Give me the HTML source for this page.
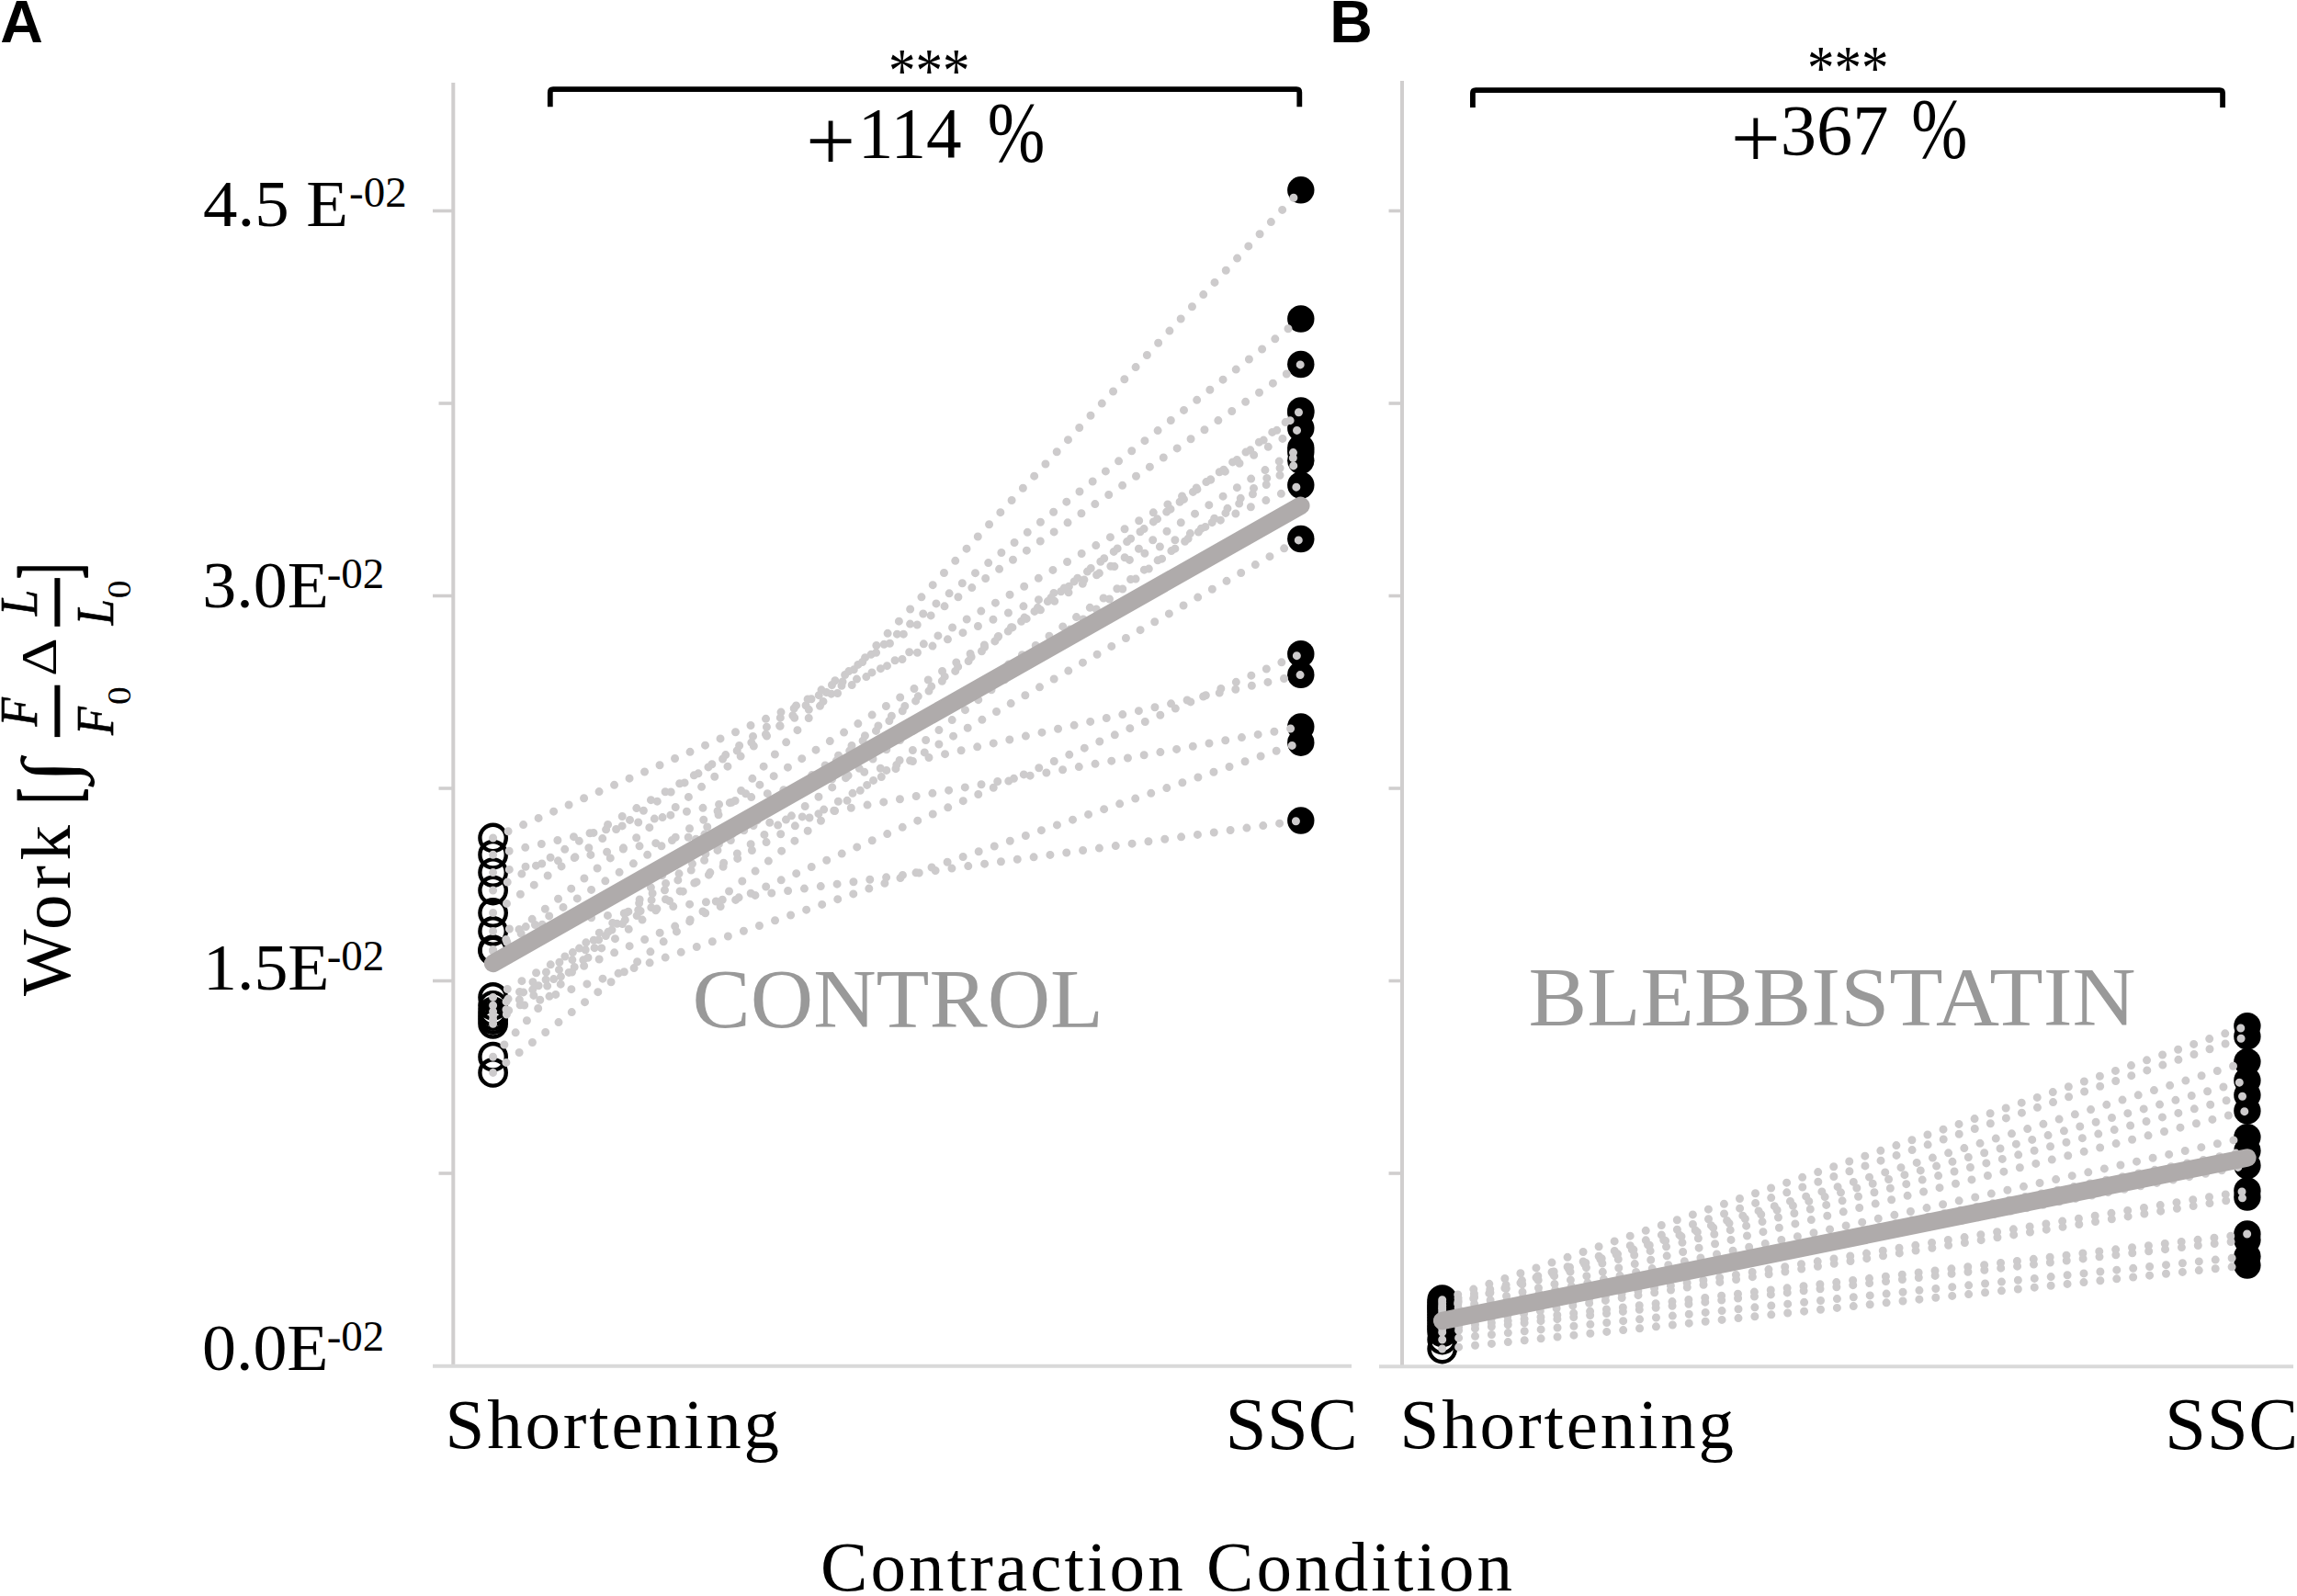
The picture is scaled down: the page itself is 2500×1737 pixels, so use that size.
<!DOCTYPE html>
<html lang="en"><head><meta charset="utf-8"><title>Work per contraction condition</title>
<style>html,body{margin:0;padding:0;background:#fff}body{width:2500px;height:1737px;overflow:hidden}svg{display:block}text{font-family:"Liberation Serif", serif;fill:#000}.sb{font-family:"Liberation Sans", sans-serif;font-weight:700}.lab{fill:#999999}</style>
</head><body>
<svg width="2500" height="1737" viewBox="0 0 2500 1737">
<rect width="2500" height="1737" fill="#fff"/>
<g stroke="#d0cece" stroke-width="4" fill="none">
<line x1="493.3" y1="90" x2="493.3" y2="1488"/>
<line x1="471.0" y1="229.5" x2="493.3" y2="229.5" stroke-width="3.6"/>
<line x1="477.5" y1="439.0" x2="493.3" y2="439.0" stroke-width="3.6"/>
<line x1="471.0" y1="648.5" x2="493.3" y2="648.5" stroke-width="3.6"/>
<line x1="477.5" y1="858.0" x2="493.3" y2="858.0" stroke-width="3.6"/>
<line x1="471.0" y1="1067.5" x2="493.3" y2="1067.5" stroke-width="3.6"/>
<line x1="477.5" y1="1277.0" x2="493.3" y2="1277.0" stroke-width="3.6"/>
<line x1="1526" y1="88" x2="1526" y2="1488"/>
<line x1="1511.5" y1="229.5" x2="1526" y2="229.5" stroke-width="3.6"/>
<line x1="1511.5" y1="439.0" x2="1526" y2="439.0" stroke-width="3.6"/>
<line x1="1511.5" y1="648.5" x2="1526" y2="648.5" stroke-width="3.6"/>
<line x1="1511.5" y1="858.0" x2="1526" y2="858.0" stroke-width="3.6"/>
<line x1="1511.5" y1="1067.5" x2="1526" y2="1067.5" stroke-width="3.6"/>
<line x1="1511.5" y1="1277.0" x2="1526" y2="1277.0" stroke-width="3.6"/>
</g>
<g stroke="#d9d9d9" stroke-width="4" fill="none">
<line x1="471" y1="1486.8" x2="1471" y2="1486.8"/>
<line x1="1501" y1="1487.3" x2="2496" y2="1487.3"/>
</g>
<g fill="none" stroke="#000" stroke-width="4.4">
<circle cx="536.6" cy="1150.2" r="14.2"/>
<circle cx="536.6" cy="1033.6" r="14.2"/>
<circle cx="536.6" cy="993.5" r="14.2"/>
<circle cx="536.6" cy="912.0" r="14.2"/>
<circle cx="536.6" cy="1035.0" r="14.2"/>
<circle cx="536.6" cy="1109.6" r="14.2"/>
<circle cx="536.6" cy="1100.9" r="14.2"/>
<circle cx="536.6" cy="1085.4" r="14.2"/>
<circle cx="536.6" cy="930.2" r="14.2"/>
<circle cx="536.6" cy="949.6" r="14.2"/>
<circle cx="536.6" cy="1094.3" r="14.2"/>
<circle cx="536.6" cy="1105.5" r="14.2"/>
<circle cx="536.6" cy="1013.5" r="14.2"/>
<circle cx="536.6" cy="1114.3" r="14.2"/>
<circle cx="536.6" cy="1167.4" r="14.2"/>
<circle cx="536.6" cy="969.0" r="14.2"/>
</g>
<g fill="#000">
<circle cx="1415.8" cy="206.8" r="14.7"/>
<circle cx="1415.8" cy="347.0" r="14.7"/>
<circle cx="1415.8" cy="396.5" r="14.7"/>
<circle cx="1415.8" cy="528.0" r="14.7"/>
<circle cx="1415.8" cy="487.4" r="14.7"/>
<circle cx="1415.8" cy="447.0" r="14.7"/>
<circle cx="1415.8" cy="449.0" r="14.7"/>
<circle cx="1415.8" cy="586.5" r="14.7"/>
<circle cx="1415.8" cy="734.4" r="14.7"/>
<circle cx="1415.8" cy="791.0" r="14.7"/>
<circle cx="1415.8" cy="711.7" r="14.7"/>
<circle cx="1415.8" cy="808.2" r="14.7"/>
<circle cx="1415.8" cy="893.0" r="14.7"/>
<circle cx="1415.8" cy="501.3" r="14.7"/>
<circle cx="1415.8" cy="492.0" r="14.7"/>
<circle cx="1415.8" cy="466.0" r="14.7"/>
</g>
<g fill="none" stroke="#cdcbcc" stroke-width="9" stroke-linecap="round" stroke-dasharray="0 18">
<path d="M536.6 1150.2L1415.8 206.8"/>
<path d="M536.6 1033.6L1415.8 347.0"/>
<path d="M536.6 993.5L1415.8 396.5"/>
<path d="M536.6 912.0L1415.8 528.0"/>
<path d="M536.6 1035.0L1415.8 487.4"/>
<path d="M536.6 1109.6L1415.8 447.0"/>
<path d="M536.6 1100.9L1415.8 449.0"/>
<path d="M536.6 1085.4L1415.8 586.5"/>
<path d="M536.6 930.2L1415.8 734.4"/>
<path d="M536.6 949.6L1415.8 791.0"/>
<path d="M536.6 1094.3L1415.8 711.7"/>
<path d="M536.6 1105.5L1415.8 808.2"/>
<path d="M536.6 1013.5L1415.8 893.0"/>
<path d="M536.6 1114.3L1415.8 501.3"/>
<path d="M536.6 1167.4L1415.8 492.0"/>
<path d="M536.6 969.0L1415.8 466.0"/>
</g>
<path d="M536.6 1048.4L1415.8 550.3" fill="none" stroke="#afabab" stroke-width="19.5" stroke-linecap="round"/>
<g fill="none" stroke="#000" stroke-width="4.4">
<circle cx="1569.7" cy="1414.7" r="14.2"/>
<circle cx="1569.7" cy="1425.0" r="14.2"/>
<circle cx="1569.7" cy="1423.0" r="14.2"/>
<circle cx="1569.7" cy="1417.5" r="14.2"/>
<circle cx="1569.7" cy="1420.5" r="14.2"/>
<circle cx="1569.7" cy="1428.0" r="14.2"/>
<circle cx="1569.7" cy="1431.0" r="14.2"/>
<circle cx="1569.7" cy="1434.0" r="14.2"/>
<circle cx="1569.7" cy="1437.0" r="14.2"/>
<circle cx="1569.7" cy="1440.0" r="14.2"/>
<circle cx="1569.7" cy="1444.0" r="14.2"/>
<circle cx="1569.7" cy="1446.0" r="14.2"/>
<circle cx="1569.7" cy="1450.0" r="14.2"/>
<circle cx="1569.7" cy="1458.0" r="14.2"/>
<circle cx="1569.7" cy="1468.0" r="14.2"/>
</g>
<g fill="#000">
<circle cx="2445.9" cy="1116.6" r="14.7"/>
<circle cx="2445.9" cy="1127.9" r="14.7"/>
<circle cx="2445.9" cy="1155.6" r="14.7"/>
<circle cx="2445.9" cy="1175.8" r="14.7"/>
<circle cx="2445.9" cy="1191.8" r="14.7"/>
<circle cx="2445.9" cy="1208.9" r="14.7"/>
<circle cx="2445.9" cy="1237.6" r="14.7"/>
<circle cx="2445.9" cy="1252.5" r="14.7"/>
<circle cx="2445.9" cy="1268.5" r="14.7"/>
<circle cx="2445.9" cy="1296.0" r="14.7"/>
<circle cx="2445.9" cy="1303.0" r="14.7"/>
<circle cx="2445.9" cy="1343.0" r="14.7"/>
<circle cx="2445.9" cy="1349.4" r="14.7"/>
<circle cx="2445.9" cy="1367.5" r="14.7"/>
<circle cx="2445.9" cy="1377.1" r="14.7"/>
</g>
<g fill="none" stroke="#cdcbcc" stroke-width="9" stroke-linecap="round" stroke-dasharray="0 18">
<path d="M1569.7 1414.7L2445.9 1116.6"/>
<path d="M1569.7 1425.0L2445.9 1127.9"/>
<path d="M1569.7 1423.0L2445.9 1155.6"/>
<path d="M1569.7 1417.5L2445.9 1175.8"/>
<path d="M1569.7 1420.5L2445.9 1191.8"/>
<path d="M1569.7 1428.0L2445.9 1208.9"/>
<path d="M1569.7 1431.0L2445.9 1237.6"/>
<path d="M1569.7 1434.0L2445.9 1252.5"/>
<path d="M1569.7 1437.0L2445.9 1268.5"/>
<path d="M1569.7 1440.0L2445.9 1296.0"/>
<path d="M1569.7 1444.0L2445.9 1303.0"/>
<path d="M1569.7 1446.0L2445.9 1343.0"/>
<path d="M1569.7 1450.0L2445.9 1349.4"/>
<path d="M1569.7 1458.0L2445.9 1367.5"/>
<path d="M1569.7 1468.0L2445.9 1377.1"/>
</g>
<path d="M1569.7 1437.5L2445.9 1260.0" fill="none" stroke="#afabab" stroke-width="19.5" stroke-linecap="round"/>
<g fill="none" stroke="#000" stroke-width="5.8" stroke-linejoin="round">
<path d="M598.8 116.3V100.4Q598.8 97.2 602 97.2H1411.1Q1414.3 97.2 1414.3 100.4V116.3"/>
<path d="M1602.9 117V101.3Q1602.9 98.1 1606.1 98.1H2415.9Q2419.1 98.1 2419.1 101.3V117"/>
</g>
<text x="0.3" y="45.8" class="sb" font-size="64.5">A</text>
<text x="1447.2" y="45.9" class="sb" font-size="64.5">B</text>
<text transform="translate(1011.2 99) scale(1 1.13)" font-size="59" text-anchor="middle">***</text>
<text transform="translate(2011.2 96.4) scale(1 1.13)" font-size="59" text-anchor="middle">***</text>
<text x="877" y="184.5" font-size="96">+</text>
<text x="933.7" y="171.3" font-size="79" textLength="113" lengthAdjust="spacingAndGlyphs">114</text>
<text transform="translate(1074.8 174.6) scale(0.976 1.21)" font-size="77">%</text>
<text x="1883.8" y="181.6" font-size="96">+</text>
<text x="1937.8" y="168.3" font-size="79" textLength="117.8" lengthAdjust="spacingAndGlyphs">367</text>
<text transform="translate(2080.2 171.4) scale(0.952 1.2)" font-size="77">%</text>
<text x="221.0" y="246.2" font-size="72" textLength="158.0" lengthAdjust="spacingAndGlyphs">4.5 E</text>
<text x="380.0" y="225.2" font-size="47">-02</text>
<text x="220.3" y="660.8" font-size="72" textLength="137.5" lengthAdjust="spacingAndGlyphs">3.0E</text>
<text x="355.7" y="639.8" font-size="47">-02</text>
<text x="221.0" y="1076.6" font-size="72" textLength="137.5" lengthAdjust="spacingAndGlyphs">1.5E</text>
<text x="355.7" y="1055.6" font-size="47">-02</text>
<text x="220.0" y="1491.4" font-size="72" textLength="137.5" lengthAdjust="spacingAndGlyphs">0.0E</text>
<text x="355.7" y="1470.4" font-size="47">-02</text>
<text x="753.5" y="1117.7" font-size="90" class="lab" textLength="447.5" lengthAdjust="spacingAndGlyphs">CONTROL</text>
<text x="1663.5" y="1116.3" font-size="90" class="lab" textLength="661" lengthAdjust="spacingAndGlyphs">BLEBBISTATIN</text>
<text x="484.5" y="1575.5" font-size="77" textLength="363.5">Shortening</text>
<text x="1333.6" y="1576.7" font-size="81" textLength="144.1">SSC</text>
<text x="1523.6" y="1575.5" font-size="77" textLength="363.5">Shortening</text>
<text x="2356" y="1576.7" font-size="81" textLength="145.4">SSC</text>
<text x="893" y="1730.5" font-size="77" textLength="753">Contraction Condition</text>
<g transform="rotate(-90)">
<text x="-1084" y="76.2" font-size="77" textLength="186">Work</text>
<g stroke="#000" stroke-width="1.6" stroke-linejoin="round">
<text transform="translate(-874.4 82.6) scale(0.657 1.193)" font-size="77">[</text>
<text transform="translate(-630 82.6) scale(0.657 1.193)" font-size="77">]</text>
</g>
<text transform="translate(-851.8 81.3) scale(1.12 1)" font-size="82.3">∫</text>
<g stroke="#000" stroke-width="0.7" stroke-linejoin="round">
<text transform="translate(-790.5 40.4) scale(0.915 1)" font-size="56" font-style="italic">F</text>
<text transform="translate(-799.9 123.1) scale(0.9 1)" font-size="56" font-style="italic">F</text>
<text transform="translate(-669.9 40.4) scale(0.9 1)" font-size="56" font-style="italic">L</text>
<text transform="translate(-680.2 123.1) scale(0.9 1)" font-size="56" font-style="italic">L</text>
</g>
<rect x="-802.1" y="59.4" width="56.4" height="6"/>
<rect x="-681.8" y="59.4" width="52.7" height="6"/>
<text transform="translate(-766.9 141.5) scale(1.1 1)" font-size="36.1">0</text>
<text transform="translate(-651.3 141.5) scale(1.1 1)" font-size="36.1">0</text>
<text transform="translate(-736 61.1) scale(1.165 1)" font-size="55.6">Δ</text>
</g>
</svg></body></html>
